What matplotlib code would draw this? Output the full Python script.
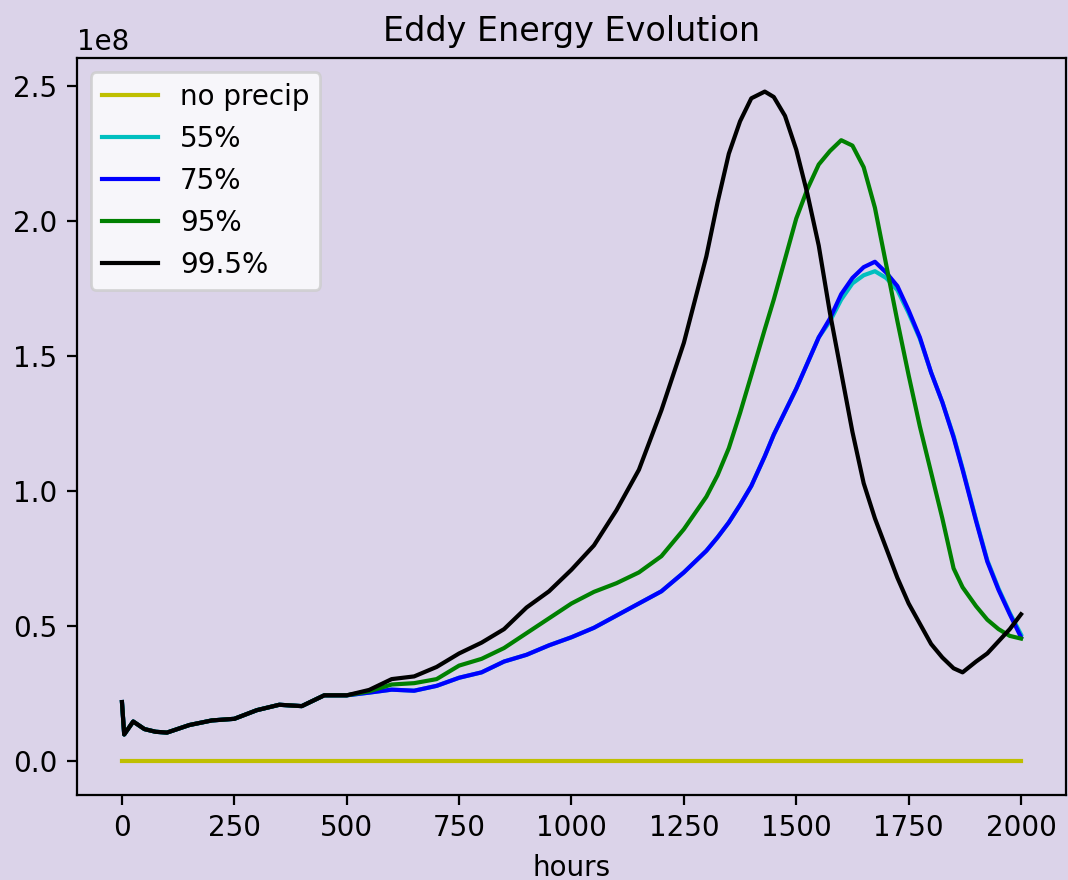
import matplotlib
matplotlib.use("Agg")
import matplotlib.pyplot as plt
import numpy as np

# hours sampled (x values)
hours = [0, 5, 25, 50, 75, 100, 150, 200, 250, 300, 350, 400, 450, 500,
         550, 600, 650, 700, 750, 800, 850, 900, 950, 1000, 1050, 1100, 1150,
         1200, 1250, 1300, 1325, 1350, 1375, 1400, 1430, 1450, 1475, 1500,
         1525, 1550, 1575, 1600, 1625, 1650, 1675, 1700, 1725, 1750, 1775,
         1800, 1825, 1850, 1870, 1900, 1925, 1950, 1975, 2000]

# Eddy energy (units of 1e8)
early = [0.22, 0.10, 0.148, 0.12, 0.11, 0.107, 0.135, 0.152, 0.158, 0.19, 0.21,
         0.205, 0.245, 0.245]

e_995 = early + [0.265, 0.305, 0.315, 0.35, 0.40, 0.44, 0.49, 0.57, 0.63, 0.71,
                 0.80, 0.93, 1.08, 1.30, 1.55, 1.87, 2.07, 2.25, 2.37, 2.455,
                 2.48, 2.46, 2.39, 2.265, 2.10, 1.91, 1.66, 1.44, 1.22, 1.03,
                 0.90, 0.79, 0.68, 0.585, 0.51, 0.435, 0.385, 0.345, 0.33,
                 0.37, 0.40, 0.445, 0.49, 0.545]

e_95 = early + [0.26, 0.285, 0.29, 0.305, 0.355, 0.38, 0.42, 0.475, 0.53, 0.585,
                0.628, 0.66, 0.70, 0.76, 0.86, 0.98, 1.06, 1.16, 1.29, 1.43,
                1.60, 1.71, 1.86, 2.01, 2.12, 2.21, 2.26, 2.30, 2.28, 2.20,
                2.05, 1.84, 1.63, 1.43, 1.24, 1.07, 0.90, 0.715, 0.645,
                0.575, 0.525, 0.49, 0.465, 0.455]

e_75 = early + [0.255, 0.266, 0.262, 0.28, 0.31, 0.33, 0.37, 0.395, 0.43, 0.46,
                0.495, 0.54, 0.585, 0.63, 0.70, 0.78, 0.83, 0.885, 0.95, 1.02,
                1.13, 1.21, 1.295, 1.38, 1.475, 1.57, 1.64, 1.73, 1.79, 1.83,
                1.85, 1.81, 1.76, 1.67, 1.57, 1.44, 1.33, 1.20, 1.08,
                0.89, 0.74, 0.635, 0.545, 0.46]

e_55 = early + [0.255, 0.266, 0.262, 0.28, 0.31, 0.33, 0.37, 0.395, 0.43, 0.46,
                0.495, 0.54, 0.585, 0.63, 0.70, 0.78, 0.83, 0.885, 0.95, 1.02,
                1.13, 1.21, 1.295, 1.38, 1.475, 1.57, 1.63, 1.71, 1.77, 1.80,
                1.815, 1.79, 1.745, 1.66, 1.565, 1.44, 1.33, 1.205, 1.085,
                0.895, 0.745, 0.64, 0.55, 0.47]

e_noprecip = [0.0] * len(hours)

labels = ["no precip", "55%", "75%", "95%", "99.5%"]
colors = ["y", "c", "b", "g", "k"]
series = [e_noprecip, e_55, e_75, e_95, e_995]

bg = "#dbd3e9"
fig = plt.figure(figsize=(5.34, 4.4), dpi=200, facecolor=bg)
ax = fig.add_axes([0.0721, 0.0966, 0.926, 0.8374])
ax.set_facecolor(bg)

for vals, lab, col in zip(series, labels, colors):
    ax.plot(hours, np.array(vals) * 1e8, color=col, label=lab)

ax.set_title("Eddy Energy Evolution")
ax.set_xlabel("hours")
ax.legend(loc="upper left")

fig.savefig("out.png", dpi=200, facecolor=bg)
